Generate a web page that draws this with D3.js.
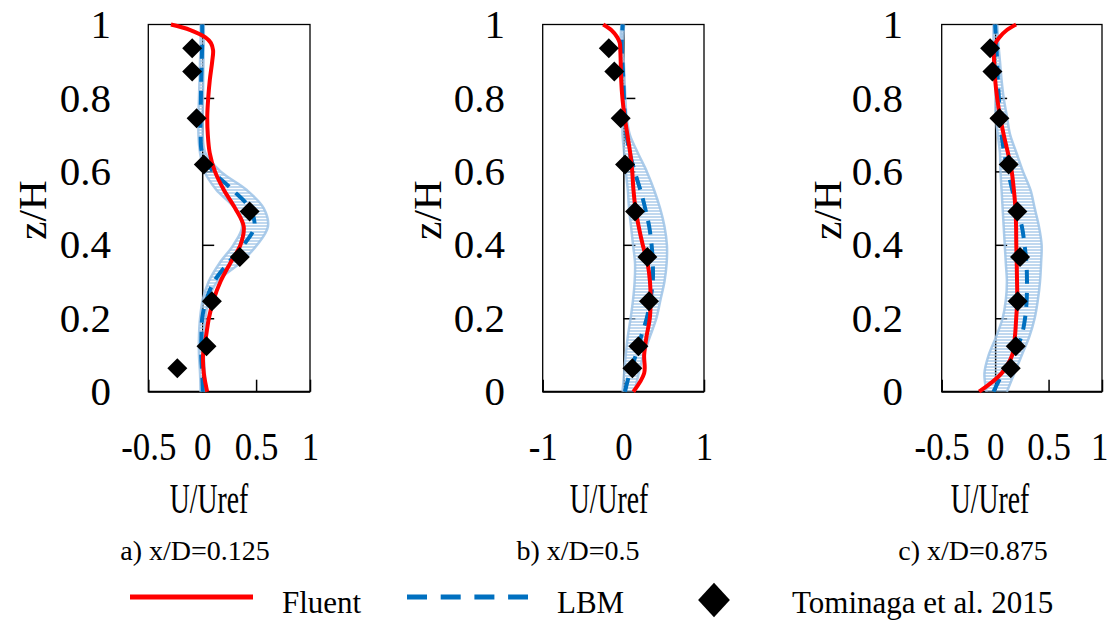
<!DOCTYPE html>
<html><head><meta charset="utf-8">
<script src="https://cdn.jsdelivr.net/npm/d3@7"></script>
<style>
html,body{margin:0;padding:0;background:#fff;}
svg{display:block;font-family:"Liberation Serif","Times New Roman",serif;}
</style></head><body>
<svg id="chart" width="1109" height="620"></svg>
<script>
// ---------------- DATA ----------------
const zGrid   = [0,0.05,0.1,0.15,0.2,0.25,0.3,0.35,0.4,0.45,0.5,0.55,0.6,0.65,0.7,0.75,0.8,0.85,0.9,0.95,1.0];
const zFluent = [0,0.05,0.1,0.15,0.2,0.25,0.3,0.35,0.4,0.45,0.5,0.55,0.6,0.65,0.7,0.75,0.8,0.85,0.9,0.93,0.95,0.965,0.985,1.0];

// Fluent (U/Uref) at zFluent
const fluentA = [0.046,0.015,0.008,0.035,0.062,0.105,0.17,0.26,0.355,0.385,0.305,0.20,0.118,0.07,0.052,0.047,0.056,0.071,0.093,0.101,0.08,0.03,-0.11,-0.29];
const fluentB = [0.124,0.258,0.258,0.287,0.328,0.338,0.33,0.30,0.24,0.19,0.15,0.125,0.11,0.085,0.05,0.015,-0.012,-0.027,-0.033,-0.038,-0.045,-0.075,-0.15,-0.25];
const fluentC = [-0.15,0.06,0.16,0.185,0.197,0.207,0.205,0.202,0.198,0.196,0.19,0.175,0.155,0.12,0.08,0.046,0.019,0.0,-0.01,-0.012,0.005,0.04,0.11,0.196];

// LBM mean and band (lower / upper) at zGrid
const lbmA   = [0.006,0.0,-0.009,-0.007,0.0,0.038,0.11,0.24,0.385,0.485,0.44,0.28,0.10,0.0,-0.015,-0.015,-0.012,-0.009,-0.004,0.0,0.0];
const lbmLoA = [-0.015,-0.02,-0.03,-0.03,-0.02,0.005,0.06,0.16,0.29,0.37,0.30,0.13,0.02,-0.02,-0.035,-0.035,-0.03,-0.025,-0.02,-0.015,-0.015];
const lbmHiA = [0.03,0.025,0.015,0.015,0.03,0.06,0.14,0.35,0.51,0.61,0.57,0.41,0.17,0.03,0.005,0.005,0.008,0.01,0.012,0.015,0.015];

const lbmB   = [0.02,0.078,0.155,0.22,0.29,0.335,0.365,0.365,0.35,0.32,0.27,0.21,0.14,0.08,0.04,0.02,0.008,0.0,-0.012,-0.02,-0.008];
const lbmLoB = [-0.01,0.01,0.03,0.055,0.09,0.12,0.14,0.145,0.12,0.095,0.07,0.055,0.03,0.01,-0.01,-0.01,-0.01,-0.015,-0.03,-0.035,-0.025];
const lbmHiB = [0.14,0.19,0.25,0.33,0.41,0.46,0.51,0.537,0.54,0.51,0.455,0.38,0.29,0.18,0.08,0.04,0.025,0.015,0.005,-0.005,0.01];

const lbmC   = [-0.015,0.07,0.17,0.245,0.28,0.295,0.298,0.293,0.275,0.25,0.2,0.16,0.12,0.085,0.06,0.045,0.035,0.025,0.018,0.01,0.0];
const lbmLoC = [-0.08,-0.10,-0.06,0.01,0.07,0.10,0.11,0.10,0.09,0.08,0.07,0.06,0.05,0.045,0.025,0.005,0.005,0.0,-0.01,-0.015,-0.015];
const lbmHiC = [0.11,0.18,0.25,0.32,0.37,0.40,0.42,0.43,0.435,0.41,0.37,0.33,0.26,0.20,0.14,0.11,0.08,0.06,0.045,0.03,0.02];

// Tominaga et al. 2015 experiment
const expZ  = [0.935,0.872,0.745,0.619,0.491,0.367,0.246,0.124,0.064];
const expUA = [-0.093,-0.093,-0.052,0.015,0.44,0.349,0.09,0.04,-0.231];
const expUB = [-0.18,-0.112,-0.033,0.021,0.145,0.298,0.318,0.186,0.112];
const expUC = [-0.047,-0.025,0.04,0.127,0.208,0.233,0.211,0.193,0.146];

// Axes
const yTicks = [0,0.2,0.4,0.6,0.8,1];
const yTickLabels = ["0","0.2","0.4","0.6","0.8","1"];
const yInnerTicks = [0.2,0.4,0.6,0.8];
const xTicksA = [-0.5,0,0.5,1], xTickLabelsA = ["-0.5","0","0.5","1"];
const xTicksB = [-1,0,1],       xTickLabelsB = ["-1","0","1"];
const xTicksC = [-0.5,0,0.5,1], xTickLabelsC = ["-0.5","0","0.5","1"];
const xDomainA = [-0.5,1], xDomainB = [-1,1], xDomainC = [-0.5,1];
const yTitle = "z/H", xTitle = "U/Uref";
const captions = ["a) x/D=0.125","b) x/D=0.5","c) x/D=0.875"];
const legendLabels = ["Fluent","LBM","Tominaga et al. 2015"];

// ---------------- LAYOUT ----------------
const W = 1109;
const RED = "#FF0000", BLUE = "#0070C0", BAND = "#9DC3E6";
const plotTop = 24.5, plotBottom = 391.7;
const layout = [
  {left:148.3, right:310,  yLabX:111, titleX:32,  uX:209, capX:195},
  {left:542.7, right:704,  yLabX:505, titleX:427, uX:609, capX:578},
  {left:941.7, right:1102, yLabX:903, titleX:827, uX:990, capX:973}
];
const panels = [
  {xDomain:xDomainA, xTicks:xTicksA, xLabels:xTickLabelsA, fluent:fluentA, lbm:lbmA, lo:lbmLoA, hi:lbmHiA, exp:expUA, caption:captions[0]},
  {xDomain:xDomainB, xTicks:xTicksB, xLabels:xTickLabelsB, fluent:fluentB, lbm:lbmB, lo:lbmLoB, hi:lbmHiB, exp:expUB, caption:captions[1]},
  {xDomain:xDomainC, xTicks:xTicksC, xLabels:xTickLabelsC, fluent:fluentC, lbm:lbmC, lo:lbmLoC, hi:lbmHiC, exp:expUC, caption:captions[2]}
];

const svg = d3.select("#chart");
const defs = svg.append("defs");
const pat = defs.append("pattern").attr("id","hatch").attr("patternUnits","userSpaceOnUse")
  .attr("width",6).attr("height",3);
pat.append("line").attr("x1",0).attr("x2",6).attr("y1",1).attr("y2",1)
  .attr("stroke",BAND).attr("stroke-width",1.3);

const y = d3.scaleLinear().domain([0,1]).range([plotBottom,plotTop]);

panels.forEach((p,i)=>{
  const L = layout[i];
  const x = d3.scaleLinear().domain(p.xDomain).range([L.left,L.right]);
  const g = svg.append("g");

  // frame
  g.append("rect").attr("x",x(p.xDomain[0])).attr("y",y(1))
    .attr("width",x(p.xDomain[1])-x(p.xDomain[0])).attr("height",y(0)-y(1))
    .attr("fill","none").attr("stroke","#000").attr("stroke-width",1.3);
  g.append("line").attr("x1",x(p.xDomain[0])).attr("x2",x(p.xDomain[1]))
    .attr("y1",y(0)).attr("y2",y(0)).attr("stroke","#000").attr("stroke-width",2);

  // vertical axis at U=0 with inner ticks
  const ax = g.append("g").attr("transform",`translate(${x(0)},0)`)
    .call(d3.axisRight(y).tickValues(yInnerTicks).tickSize(12).tickSizeOuter(0).tickFormat(""));
  ax.selectAll("path,line").attr("stroke","#000").attr("stroke-width",1.5);

  // bottom ticks pointing up
  const bx = g.append("g").attr("transform",`translate(0,${y(0)})`)
    .call(d3.axisTop(x).tickValues(p.xTicks).tickSize(12).tickSizeOuter(0).tickFormat(""));
  bx.select(".domain").remove();
  bx.selectAll("line").attr("stroke","#000").attr("stroke-width",1.5);

  // y tick labels
  const yl = g.append("g").attr("transform",`translate(${L.yLabX},0)`)
    .call(d3.axisLeft(y).tickValues(yTicks).tickSize(0).tickPadding(0).tickFormat((d,k)=>yTickLabels[k]));
  yl.select(".domain").remove();
  yl.selectAll("text").attr("font-family","Liberation Serif").attr("font-size",41).attr("fill","#000");

  // x tick labels
  const xl = g.append("g").attr("transform",`translate(0,${y(0)})`)
    .call(d3.axisBottom(x).tickValues(p.xTicks).tickSize(0).tickPadding(39).tickFormat((d,k)=>p.xLabels[k]));
  xl.select(".domain").remove();
  xl.selectAll("text").attr("font-family","Liberation Serif").attr("font-size",41).attr("fill","#000")
    .attr("transform","scale(0.85,1)");
  // keep a label that would run past the right edge inside the picture
  xl.selectAll(".tick").each(function(d){
    const t = d3.select(this).select("text");
    const half = t.node().getComputedTextLength()*0.85/2;
    const over = x(d) + half - (W - 1);
    if (over > 0) t.attr("transform",`translate(${-over},0) scale(0.85,1)`);
  });

  // titles
  g.append("text").attr("transform",`translate(${L.titleX+14},${(plotTop+plotBottom)/2+2}) rotate(-90)`)
    .attr("text-anchor","middle").attr("font-size",41).text(yTitle);
  g.append("text").attr("transform",`translate(${L.uX},513) scale(0.66,1)`)
    .attr("text-anchor","middle").attr("font-size",42).text(xTitle);
  g.append("text").attr("x",L.capX).attr("y",560)
    .attr("text-anchor","middle").attr("font-size",28).text(p.caption);

  // band
  const area = d3.area().curve(d3.curveCatmullRom)
    .y((d,k)=>y(zGrid[k])).x0((d,k)=>x(p.lo[k])).x1((d,k)=>x(p.hi[k]));
  g.append("path").attr("d",area(zGrid)).attr("fill","url(#hatch)");
  const edge = arr => d3.line().curve(d3.curveCatmullRom).x((d,k)=>x(arr[k])).y((d,k)=>y(zGrid[k]))(zGrid);
  [p.lo,p.hi].forEach(arr=>{
    g.append("path").attr("d",edge(arr)).attr("fill","none")
      .attr("stroke",BAND).attr("stroke-width",2.5).attr("stroke-opacity",0.85);
  });

  // LBM
  g.append("path").attr("d",d3.line().curve(d3.curveCatmullRom)
      .x((d,k)=>x(p.lbm[k])).y((d,k)=>y(zGrid[k]))(zGrid))
    .attr("fill","none").attr("stroke",BLUE).attr("stroke-width",4).attr("stroke-dasharray","14,9");

  // Fluent
  g.append("path").attr("d",d3.line().curve(d3.curveCatmullRom)
      .x((d,k)=>x(p.fluent[k])).y((d,k)=>y(zFluent[k]))(zFluent))
    .attr("fill","none").attr("stroke",RED).attr("stroke-width",4).attr("stroke-linejoin","round");

  // experiment diamonds
  g.selectAll(".exp").data(expZ).join("path").attr("class","exp")
    .attr("d",d3.symbol().type(d3.symbolSquare).size(200))
    .attr("transform",(d,k)=>`translate(${x(p.exp[k])},${y(d)}) rotate(45)`)
    .attr("fill","#000");
});

// legend
const lg = svg.append("g");
lg.append("line").attr("x1",130).attr("x2",253).attr("y1",597).attr("y2",597)
  .attr("stroke",RED).attr("stroke-width",5);
lg.append("text").attr("x",282).attr("y",613).attr("font-size",31).text(legendLabels[0]);
lg.append("line").attr("x1",407).attr("x2",528).attr("y1",597).attr("y2",597)
  .attr("stroke",BLUE).attr("stroke-width",5).attr("stroke-dasharray","20,13.7");
lg.append("text").attr("x",557).attr("y",613).attr("font-size",31).text(legendLabels[1]);
lg.append("path").attr("d",d3.symbol().type(d3.symbolSquare).size(560))
  .attr("transform","translate(714,600) scale(0.95,1.03) rotate(45)").attr("fill","#000");
lg.append("text").attr("x",792).attr("y",613).attr("font-size",31).text(legendLabels[2]);
</script>
</body></html>
